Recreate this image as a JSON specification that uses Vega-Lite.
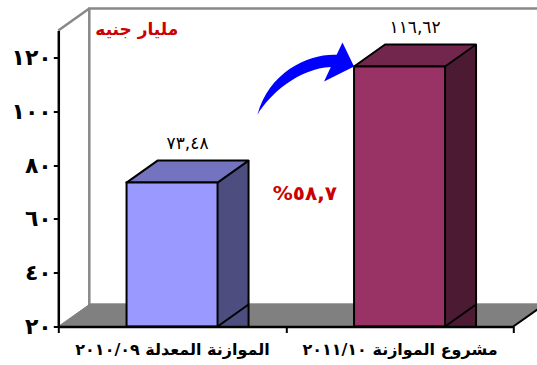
{
  "$schema": "https://vega.github.io/schema/vega-lite/v6.json",
  "width": 455,
  "height": 296,
  "autosize": {"type": "none"},
  "padding": {"left": 58.3, "top": 30.5, "right": 23.7, "bottom": 38.5},
  "background": "white",
  "config": {"view": {"stroke": null}, "font": "DejaVu Sans"},
  "data": {
    "values": [
      {"cat": "الموازنة المعدلة ٢٠١٠/٠٩", "value": 73.48, "label": "٧٣,٤٨"},
      {"cat": "مشروع الموازنة ٢٠١١/١٠", "value": 116.62, "label": "١١٦,٦٢"}
    ]
  },
  "layer": [
    {
      "description": "back wall of the 3D frame, anchored at the front bottom-left corner",
      "transform": [{"filter": {"field": "cat", "equal": "الموازنة المعدلة ٢٠١٠/٠٩"}}],
      "mark": {"type": "point", "shape": "M31,-22L486,-22L486,-318L31,-318Z", "size": 4, "filled": true, "fill": "white", "stroke": "#888888", "strokeWidth": 2.5, "opacity": 1},
      "encoding": {
        "x": {"field": "cat", "type": "nominal", "bandPosition": 0},
        "y": {"datum": 20, "type": "quantitative"}
      }
    },
    {
      "description": "top edge of the side wall",
      "transform": [{"filter": {"field": "cat", "equal": "الموازنة المعدلة ٢٠١٠/٠٩"}}],
      "mark": {"type": "point", "shape": "M0,0L31,-22", "size": 4, "filled": false, "stroke": "#888888", "strokeWidth": 2.5, "opacity": 1},
      "encoding": {
        "x": {"field": "cat", "type": "nominal", "bandPosition": 0},
        "y": {"datum": 130, "type": "quantitative"}
      }
    },
    {
      "description": "floor",
      "transform": [{"filter": {"field": "cat", "equal": "الموازنة المعدلة ٢٠١٠/٠٩"}}],
      "mark": {"type": "point", "shape": "M0,0L455,0L486,-22L31,-22Z", "size": 4, "filled": true, "fill": "#808080", "stroke": "#808080", "strokeWidth": 1, "opacity": 1},
      "encoding": {
        "x": {"field": "cat", "type": "nominal", "bandPosition": 0},
        "y": {"datum": 20, "type": "quantitative"}
      }
    },
    {
      "description": "right edge of the floor",
      "transform": [{"filter": {"field": "cat", "equal": "الموازنة المعدلة ٢٠١٠/٠٩"}}],
      "mark": {"type": "point", "shape": "M455,0L486,-22", "size": 4, "filled": false, "stroke": "black", "strokeWidth": 2, "opacity": 1},
      "encoding": {
        "x": {"field": "cat", "type": "nominal", "bandPosition": 0},
        "y": {"datum": 20, "type": "quantitative"}
      }
    },
    {
      "description": "side face of each bar (back block)",
      "mark": {"type": "bar", "width": {"band": 0.4}, "xOffset": 31, "yOffset": -22},
      "encoding": {
        "x": {"field": "cat", "type": "nominal"},
        "y": {"field": "value", "type": "quantitative"},
        "y2": {"datum": 20},
        "fill": {"field": "cat", "type": "nominal", "legend": null, "scale": {"range": ["#4d4d80", "#4d1a33"]}}
      }
    },
    {
      "description": "lower corner of each side face",
      "mark": {"type": "point", "shape": "M0,-23L0,0L31,-22L31,-23Z", "size": 4, "filled": true, "stroke": null, "opacity": 1},
      "encoding": {
        "x": {"field": "cat", "type": "nominal", "bandPosition": 0.7},
        "y": {"datum": 20, "type": "quantitative"},
        "fill": {"field": "cat", "type": "nominal", "legend": null, "scale": {"range": ["#4d4d80", "#4d1a33"]}}
      }
    },
    {
      "description": "bottom depth edge of each bar",
      "mark": {"type": "point", "shape": "M0,0L31,-22", "size": 4, "filled": false, "stroke": "black", "strokeWidth": 2, "opacity": 1},
      "encoding": {
        "x": {"field": "cat", "type": "nominal", "bandPosition": 0.7},
        "y": {"datum": 20, "type": "quantitative"}
      }
    },
    {
      "description": "back vertical edge of each bar",
      "mark": {"type": "rule", "stroke": "black", "strokeWidth": 2, "xOffset": 31, "yOffset": -22},
      "encoding": {
        "x": {"field": "cat", "type": "nominal", "bandPosition": 0.7},
        "y": {"field": "value", "type": "quantitative"},
        "y2": {"datum": 20}
      }
    },
    {
      "description": "top face of each bar",
      "mark": {"type": "point", "shape": "M0,0L91,0L122,-22L31,-22Z", "size": 4, "filled": true, "stroke": "black", "strokeWidth": 2, "strokeJoin": "round", "opacity": 1},
      "encoding": {
        "x": {"field": "cat", "type": "nominal", "bandPosition": 0.3},
        "y": {"field": "value", "type": "quantitative"},
        "fill": {"field": "cat", "type": "nominal", "legend": null, "scale": {"range": ["#7373bf", "#73264d"]}}
      }
    },
    {
      "description": "front face of each bar",
      "mark": {"type": "bar", "width": {"band": 0.4}, "stroke": "black", "strokeWidth": 2},
      "encoding": {
        "x": {
          "field": "cat",
          "type": "nominal",
          "title": null,
          "scale": {"type": "band", "paddingInner": 0, "paddingOuter": 0},
          "axis": {
            "labelAngle": 0,
            "labelAlign": "center",
            "tickBand": "extent",
            "tickSize": 6,
            "tickWidth": 2,
            "tickColor": "black",
            "domainColor": "black",
            "domainWidth": 2.5,
            "labelFontSize": 16,
            "labelFontWeight": "bold",
            "labelColor": "black",
            "labelPadding": 17,
            "labelLimit": 300,
            "zindex": 1
          }
        },
        "y": {
          "field": "value",
          "type": "quantitative",
          "scale": {"domain": [20, 130], "nice": false, "zero": false},
          "axis": {
            "values": [20, 40, 60, 80, 100, 120],
            "labelExpr": "replace(replace(replace(replace(replace(replace(datum.label, regexp('0','g'), '٠'), regexp('1','g'), '١'), regexp('2','g'), '٢'), regexp('4','g'), '٤'), regexp('6','g'), '٦'), regexp('8','g'), '٨')",
            "grid": false,
            "tickSize": 5,
            "tickWidth": 2,
            "tickColor": "black",
            "domainColor": "black",
            "domainWidth": 2.5,
            "labelFontSize": 22,
            "labelFontWeight": "bold",
            "labelColor": "black",
            "labelPadding": 2,
            "title": "مليار جنيه",
            "titleAngle": 0,
            "titleX": 78,
            "titleY": -1,
            "titleAlign": "center",
            "titleBaseline": "middle",
            "titleColor": "#cc0000",
            "titleFontSize": 17,
            "titleFontWeight": "bold",
            "zindex": 1
          }
        },
        "y2": {"datum": 20},
        "fill": {"field": "cat", "type": "nominal", "legend": null, "scale": {"range": ["#9999ff", "#993366"]}}
      }
    },
    {
      "description": "value labels above the bars",
      "mark": {"type": "text", "fontSize": 17, "color": "black", "baseline": "middle", "xOffset": 15.5, "yOffset": -38.5},
      "encoding": {
        "x": {"field": "cat", "type": "nominal"},
        "y": {"field": "value", "type": "quantitative"},
        "text": {"field": "label"}
      }
    },
    {
      "description": "growth arrow pointing at the second bar",
      "transform": [{"filter": {"field": "cat", "equal": "مشروع الموازنة ٢٠١١/١٠"}}],
      "mark": {"type": "point", "shape": "M0,0L-11.6,-24L-17.4,-11.7C-45,-13,-85,5,-96.6,48.3C-85,28,-55,2,-23.2,0.6L-30,15Z", "size": 4, "filled": true, "fill": "#0000ff", "stroke": null, "opacity": 1},
      "encoding": {
        "x": {"field": "cat", "type": "nominal", "bandPosition": 0.3},
        "y": {"field": "value", "type": "quantitative"}
      }
    },
    {
      "description": "growth rate",
      "transform": [{"filter": {"field": "cat", "equal": "مشروع الموازنة ٢٠١١/١٠"}}],
      "mark": {"type": "text", "text": "%٥٨,٧", "fontSize": 20, "fontWeight": "bold", "color": "#cc0000", "align": "right", "baseline": "middle", "xOffset": -17},
      "encoding": {
        "x": {"field": "cat", "type": "nominal", "bandPosition": 0.3},
        "y": {"datum": 69.4, "type": "quantitative"}
      }
    }
  ],
  "resolve": {"scale": {"fill": "independent"}}
}
